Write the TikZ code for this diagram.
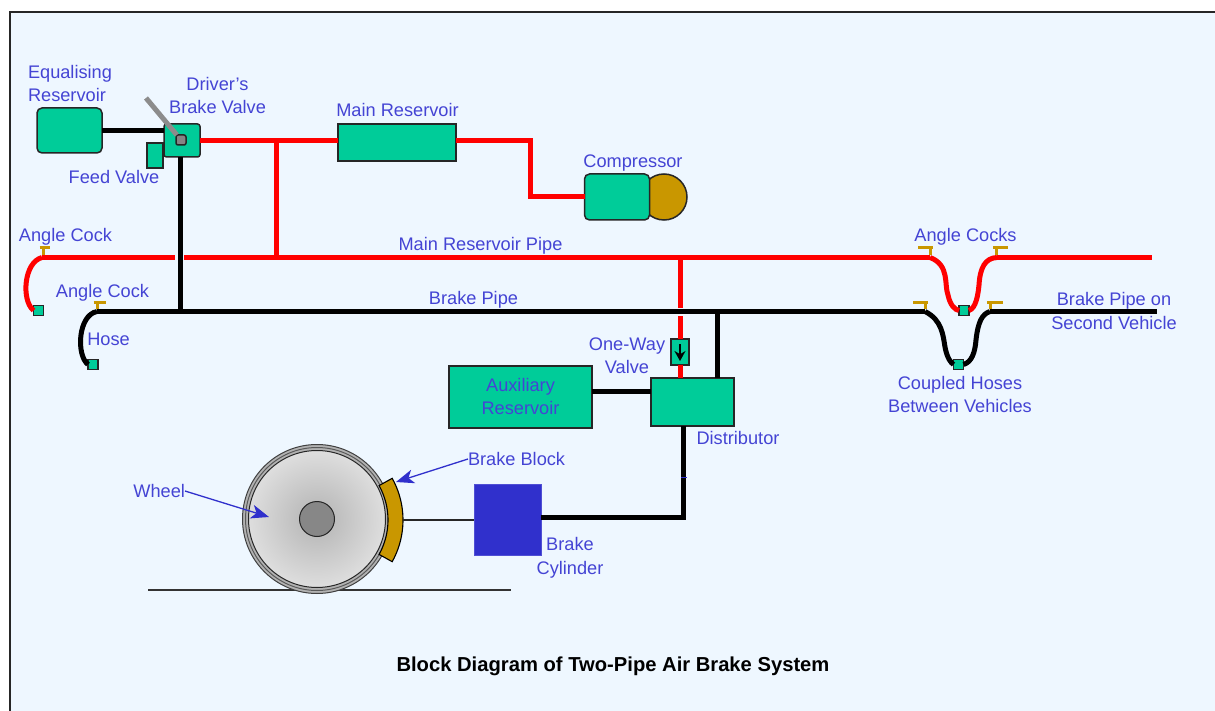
\documentclass[tikz,border=0pt]{standalone}
\usepackage{fontspec}
\setmainfont{Liberation Sans}
\usetikzlibrary{arrows.meta,calc}
\definecolor{bgblue}{HTML}{EEF7FF}
\definecolor{boxgreen}{HTML}{00CC99}
\definecolor{lbl}{HTML}{4444D4}
\definecolor{cock}{HTML}{C99700}
\definecolor{pipered}{HTML}{FF0000}
\definecolor{cyl}{HTML}{3030CC}
\tikzset{
  x=1pt,y=-1pt,
  label text/.style={inner sep=0pt,outer sep=0pt,text=lbl,font=\fontsize{18.2}{23.5}\selectfont,align=center},
  greenbox/.style={draw=black!85,line width=1.5pt,fill=boxgreen,inner sep=0pt,outer sep=0pt,rectangle},
  chambox/.style={greenbox,rounded corners=5pt},
  hoseend/.style={greenbox,minimum width=10pt,minimum height=10pt},
  redpipe/.style={draw=pipered,line width=5pt},
  blackpipe/.style={draw=black,line width=5pt},
  cockmark/.style={draw=cock,line width=3pt},
  callout/.style={draw=cyl,line width=1.3pt,-{Stealth[length=18pt,width=14pt,inset=5pt]}},
}
\begin{document}
\begin{tikzpicture}
\useasboundingbox (0,0) rectangle (1215,711);
\fill[white] (0,0) rectangle (1215,711);
\fill[bgblue] (10,12) rectangle (1215,711);
\draw[black!85,line width=1.8pt] (10,711) -- (10,12) -- (1215,12);
% ground
\coordinate (gl) at (148,590); \coordinate (gr) at (511,590);
\draw[black!80,line width=1.3pt] (gl) -- (gr);
% wheel
\node[circle,draw=black!75,line width=1pt,fill=black!30,minimum size=149pt,inner sep=0pt] (wheel) at (317,519) {};
\node[circle,draw=black!65,line width=1pt,minimum size=143pt,inner sep=0pt] (wheelrim) at (317,519) {};
\node[circle,draw=black!85,line width=1pt,inner color=black!30,outer color=black!13,minimum size=137pt,inner sep=0pt] (wheeldisc) at (317,519) {};
\node[circle,draw=black!85,line width=1pt,fill=black!47,minimum size=35pt,inner sep=0pt] (hub) at (317,519) {};
% brake block
\draw[black,line width=1.1pt,fill=cock]
  plot[domain=-29:29,samples=20] ({317+86*cos(\x)},{520+86*sin(\x)})
  -- plot[domain=29:-29,samples=20] ({317+71*cos(\x)},{520+71*sin(\x)}) -- cycle;
\coordinate (blockback) at (403,520);
% boxes
\node[chambox,minimum width=65pt,minimum height=45pt] (eqres) at (69.5,130.5) {};
\node[greenbox,minimum width=16pt,minimum height=25pt] (feed) at (155,155.5) {};
\node[chambox,rounded corners=2.5pt,minimum width=36pt,minimum height=33pt] (dbv) at (182,140.5) {};
\node[greenbox,fill=black!48,minimum width=10pt,minimum height=10pt,rounded corners=2pt] (pivot) at (181,140) {};
\node[greenbox,minimum width=118pt,minimum height=37pt] (mainres) at (397,142.5) {};
\node[circle,draw=black!85,line width=1.5pt,fill=cock,minimum size=46pt,inner sep=0pt] (compcirc) at (664,197) {};
\node[chambox,minimum width=65pt,minimum height=46pt] (comp) at (617,197) {};
\node[greenbox,minimum width=143pt,minimum height=62pt] (aux) at (520.5,397) {};
\node[greenbox,minimum width=83pt,minimum height=48pt] (dist) at (692.5,402) {};
\node[greenbox,minimum width=18pt,minimum height=26pt] (owv) at (680,352) {};
\node[fill=cyl,draw=cyl!85!white,line width=.6pt,inner sep=0pt,minimum width=67pt,minimum height=71pt] (cylinder) at (507.5,519.5) {};
\node[hoseend] (h1) at (38.5,310.5) {};
\node[hoseend] (h2) at (93,364.5) {};
\node[hoseend] (h3) at (964,310.5) {};
\node[hoseend] (h4) at (958.5,364.5) {};
% junction and free-end coordinates
\coordinate (mL) at (42,257.5);   \coordinate (mGa) at (175,257.5); \coordinate (mGb) at (184,257.5);
\coordinate (mT) at (276,257.5);  \coordinate (mD) at (680,257.5);  \coordinate (mR) at (930,257.5);
\coordinate (m2L) at (997,257.5); \coordinate (m2R) at (1152,257.5);
\coordinate (bL) at (97,311.5);   \coordinate (bV) at (180,311.5);  \coordinate (bD) at (717,311.5);
\coordinate (bR) at (925,311.5);  \coordinate (b2L) at (990,311.5); \coordinate (b2R) at (1157,311.5);
\coordinate (tap) at (276,141);
\coordinate (rA) at (530,141);    \coordinate (rB) at (530,197);
\coordinate (gapa) at (680,308);  \coordinate (gapb) at (680,316);
\coordinate (cylA) at (683,517);
% compressor / main reservoir air line
\draw[redpipe] (dbv.east) -- (mainres.west |- dbv.east);
\draw[redpipe] (tap) -- (mT);
\draw[redpipe,line join=miter] (mainres.east |- rA) -- (rA) -- (rB) -- (comp.west);
% main reservoir pipe
\draw[redpipe] (mL) -- (mGa);
\draw[redpipe] (mGb) -- (mR);
\draw[redpipe] (m2L) -- (m2R);
\draw[redpipe] (mD) -- (gapa);
\draw[redpipe] (gapb) -- (owv.north);
\draw[redpipe] (owv.south) -- (owv.south |- dist.north);
\draw[redpipe] (mL) .. controls (24,262) and (21,300) .. (h1.west);
\draw[redpipe] (mR) .. controls (950,265) and (944,285) .. (948,295) .. controls (950,305) and (955,310) .. (h3.west);
\draw[redpipe] (h3.east) .. controls (976,308) and (978,295) .. (979,285) .. controls (980,268) and (985,258) .. (m2L);
% brake pipe
\draw[blackpipe] (bL) -- (bR);
\draw[blackpipe] (b2L) -- (b2R);
\draw[blackpipe] (bV) -- (bV |- dbv.south);
\draw[blackpipe] (eqres.east) -- (eqres.east -| dbv.west);
\draw[blackpipe] (bD) -- (bD |- dist.north);
\draw[blackpipe] (aux.east |- 0,391.5) -- (dist.west |- 0,391.5);
\draw[blackpipe,line join=miter] (cylA |- dist.south) -- (cylA) -- (cylA -| cylinder.east);
\draw[blackpipe] (bL) .. controls (78,315) and (76,355) .. (h2.west);
\draw[blackpipe] (bR) .. controls (942,320) and (943,335) .. (945,347) .. controls (947,358) and (951,363) .. (h4.west);
\draw[blackpipe] (h4.east) .. controls (972,362) and (975,352) .. (976,340) .. controls (978,322) and (982,314) .. (b2L);
% rod, tick and handle
\draw[black!85,line width=1.2pt] (blockback) -- (cylinder.west |- blockback);
\draw[cyl,line width=.8pt] (681,477) -- (687,477);
\coordinate (handle) at (146,98);
\draw[black!45,line width=5pt] (handle) -- (pivot);
% one-way valve arrow
\coordinate (owva) at (680,344);
\draw[black,line width=1.5pt,-{Stealth[length=10pt,width=11pt]}] (owva) -- (680,361);
% angle cock marks
\coordinate (c1) at (43,255); \draw[cockmark] (c1) -- (43,248) (39.5,248) -- (49.5,248);
\coordinate (c2) at (97,309); \draw[cockmark] (c2) -- (97,302) (93.5,302) -- (105.5,302);
\coordinate (c3) at (930,255); \draw[cockmark] (c3) -- (930,248) (918,248) -- (933,248);
\coordinate (c4) at (996,255); \draw[cockmark] (c4) -- (996,248) (993,248) -- (1008,248);
\coordinate (c5) at (925,309); \draw[cockmark] (c5) -- (925,302) (913,302) -- (928,302);
\coordinate (c6) at (990,309); \draw[cockmark] (c6) -- (990,302) (987,302) -- (1003,302);
% labels
\node[label text,align=left,anchor=north west] (tEq) at (28,65) {Equalising\\Reservoir};
\node[label text] (tDbv) at (217.5,95.5) {Driver's\\Brake Valve};
\node[label text] (tFeed) at (114,177) {Feed Valve};
\node[label text] (tMain) at (397.5,110) {Main Reservoir};
\node[label text] (tComp) at (633,163) {Compressor};
\node[label text] (tAc1) at (65.5,237) {Angle Cock};
\node[label text] (tAc2) at (102.5,293) {Angle Cock};
\node[label text] (tHose) at (108.5,339) {Hose};
\node[label text] (tMrp) at (480.5,246) {Main Reservoir Pipe};
\node[label text] (tBp) at (473.5,300) {Brake Pipe};
\node[label text] (tAcs) at (965.5,237) {Angle Cocks};
\node[label text] (tBp2) at (1114,311) {Brake Pipe on\\Second Vehicle};
\node[label text] (tCh) at (960,394.5) {Coupled Hoses\\Between Vehicles};
\node[label text] (tOwv) at (627,355.5) {One-Way\\Valve};
\node[label text] (tAux) at (520.5,396.5) {Auxiliary\\Reservoir};
\node[label text] (tDist) at (738,438) {Distributor};
\node[label text,anchor=west] (tBlock) at (468,459) {Brake Block};
\node[label text,anchor=east] (tWheel) at (185,491) {Wheel};
\node[label text] (tCyl) at (570,558) {Brake\\Cylinder};
\node[inner sep=0pt,font=\fontsize{20.2}{24}\selectfont\bfseries] (title) at (613,666) {Block Diagram of Two-Pipe Air Brake System};
% callouts
\coordinate (wheelpt) at (269,517);
\coordinate (blockpt) at (396,482);
\draw[callout] (tWheel.east) -- (wheelpt);
\draw[callout] (tBlock.west) -- (blockpt);
\end{tikzpicture}
\end{document}
